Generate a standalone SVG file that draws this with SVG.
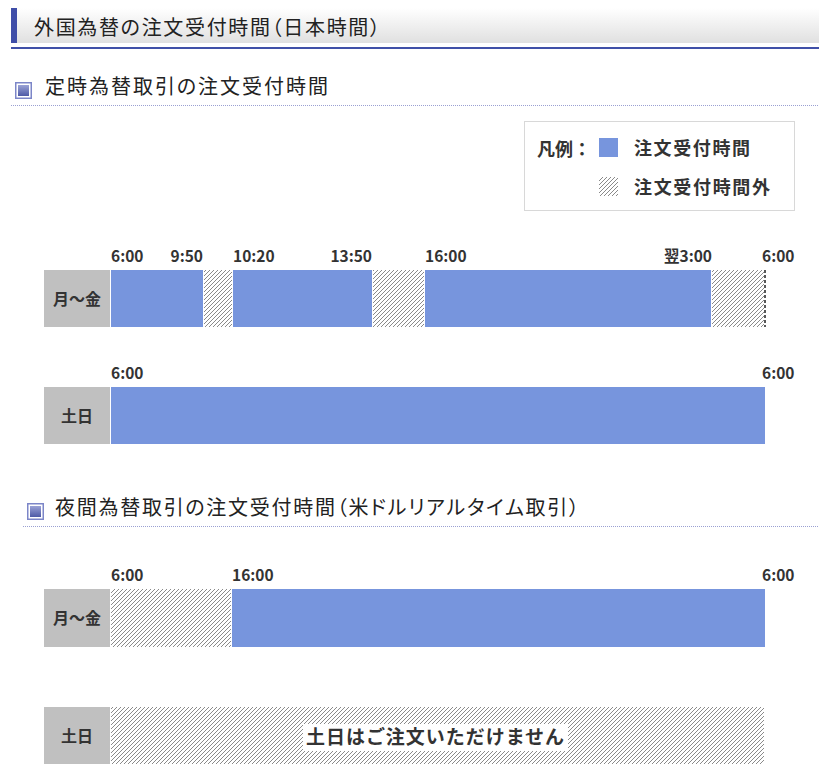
<svg xmlns="http://www.w3.org/2000/svg" width="819" height="780" viewBox="0 0 819 780">
<defs>
  <linearGradient id="hdr" x1="0" y1="0" x2="0" y2="1">
    <stop offset="0" stop-color="#ffffff"/>
    <stop offset="1" stop-color="#e0e0e0"/>
  </linearGradient>
  <linearGradient id="ico" x1="0" y1="0" x2="0" y2="1">
    <stop offset="0" stop-color="#9aa2d6"/>
    <stop offset="1" stop-color="#4e5aa6"/>
  </linearGradient>
  <pattern id="hatch" patternUnits="userSpaceOnUse" width="4" height="4">
    <rect width="4" height="4" fill="#ffffff"/>
    <path d="M-1,1 L1,-1 M0,4 L4,0 M3,5 L5,3" stroke="#8a8a8a" stroke-width="1"/>
  </pattern>
  <g id="icon">
    <rect x="0" y="0" width="17" height="17" fill="#7c86c8"/>
    <rect x="1.5" y="1.5" width="14" height="14" fill="#ffffff"/>
    <rect x="3" y="3" width="11" height="11" fill="url(#ico)"/>
  </g>
</defs>
<style>
  .ttl{font-family:"Noto Sans CJK JP","Noto Sans",sans-serif;font-size:20px;fill:#222;font-feature-settings:"palt";}
  .lbl{font-family:"Noto Sans CJK JP","Noto Sans",sans-serif;font-size:16px;font-weight:bold;fill:#333;}
  .leg{font-family:"Noto Sans CJK JP","Noto Sans",sans-serif;font-size:18px;font-weight:bold;fill:#333;}
  .tm{font-family:"Noto Sans CJK JP","Noto Sans",sans-serif;font-size:15.5px;font-weight:bold;fill:#333;}
  .on{fill:#7795dd;}
  .off{fill:url(#hatch);}
  .day{fill:#c0c0c0;}
  .dot{stroke:#9aa0d2;stroke-width:1;stroke-dasharray:1 1;fill:none;}
</style>
<rect width="819" height="780" fill="#ffffff"/>

<g id="header">
  <rect x="17" y="8" width="802" height="35" fill="url(#hdr)"/>
  <rect x="11" y="8" width="6" height="35" fill="#3f4ea8"/>
  <rect x="11" y="47" width="808" height="2" fill="#4050a8"/>
  <text class="ttl" x="34" y="35" textLength="346" lengthAdjust="spacing">外国為替の注文受付時間（日本時間）</text>
</g>

<g id="section1-title">
  <use href="#icon" x="15" y="82"/>
  <text class="ttl" x="45" y="94" textLength="283" lengthAdjust="spacing">定時為替取引の注文受付時間</text>
  <line class="dot" x1="11" y1="105.5" x2="819" y2="105.5"/>
</g>

<g id="legend">
  <rect x="524.5" y="121.5" width="270" height="89" fill="#ffffff" stroke="#d8d8d8"/>
  <text class="leg" x="537" y="156">凡例：</text>
  <rect class="on" x="599" y="138" width="19" height="19"/>
  <text class="leg" x="634" y="155" textLength="116" lengthAdjust="spacing">注文受付時間</text>
  <rect class="off" x="599" y="177" width="19" height="19"/>
  <text class="leg" x="634" y="194" textLength="136" lengthAdjust="spacing">注文受付時間外</text>
</g>

<g id="row1-weekday">
  <rect class="day" x="44" y="270" width="66" height="57"/>
  <text class="lbl" x="77" y="305" text-anchor="middle">月〜金</text>
  <rect class="on" x="111" y="270" width="92" height="57"/>
  <rect class="off" x="204" y="270" width="28" height="57"/>
  <rect class="on" x="233" y="270" width="139" height="57"/>
  <rect class="off" x="373" y="270" width="51" height="57"/>
  <rect class="on" x="425" y="270" width="286" height="57"/>
  <rect class="off" x="712" y="270" width="52" height="57"/>
  <line x1="765" y1="270" x2="765" y2="327" stroke="#222" stroke-width="1.5" stroke-dasharray="3 2"/>
  <text class="tm" x="111" y="262">6:00</text>
  <text class="tm" x="203" y="262" text-anchor="end">9:50</text>
  <text class="tm" x="233" y="262">10:20</text>
  <text class="tm" x="372" y="262" text-anchor="end">13:50</text>
  <text class="tm" x="425" y="262">16:00</text>
  <text class="tm" x="712" y="262" text-anchor="end">翌3:00</text>
  <text class="tm" x="762" y="262">6:00</text>
</g>

<g id="row1-weekend">
  <rect class="day" x="44" y="387" width="66" height="57"/>
  <text class="lbl" x="77" y="422" text-anchor="middle">土日</text>
  <rect class="on" x="111" y="387" width="654" height="57"/>
  <text class="tm" x="111" y="379">6:00</text>
  <text class="tm" x="762" y="379">6:00</text>
</g>

<g id="section2-title">
  <use href="#icon" x="27" y="503"/>
  <text class="ttl" x="55" y="515" textLength="524" lengthAdjust="spacing">夜間為替取引の注文受付時間（米ドルリアルタイム取引）</text>
  <line class="dot" x1="23" y1="526.5" x2="819" y2="526.5"/>
</g>

<g id="row2-weekday">
  <rect class="day" x="44" y="589" width="66" height="58"/>
  <text class="lbl" x="77" y="624" text-anchor="middle">月〜金</text>
  <rect class="off" x="111" y="589" width="120" height="58"/>
  <rect class="on" x="232" y="589" width="533" height="58"/>
  <text class="tm" x="111" y="581">6:00</text>
  <text class="tm" x="232" y="581">16:00</text>
  <text class="tm" x="762" y="581">6:00</text>
</g>

<g id="row2-weekend">
  <rect class="day" x="44" y="707" width="66" height="57"/>
  <text class="lbl" x="77" y="742" text-anchor="middle">土日</text>
  <rect class="off" x="111" y="707" width="653" height="57"/>
  <rect x="303" y="724" width="265" height="27" fill="#ffffff"/>
  <text class="lbl" x="306" y="744" textLength="258" lengthAdjust="spacing" style="font-size:19px">土日はご注文いただけません</text>
</g>
</svg>
